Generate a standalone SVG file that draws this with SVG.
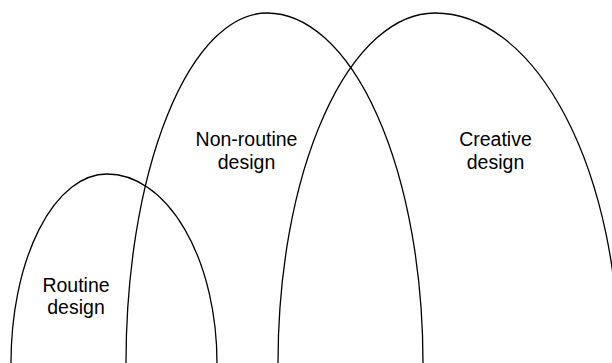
<svg xmlns="http://www.w3.org/2000/svg" width="612" height="363" viewBox="0 0 612 363">
<style>
.arch{fill:none;stroke:#000;stroke-width:1.3}
.lbl{font-family:"Liberation Sans",Arial,sans-serif;font-size:19.5px;fill:#000;text-anchor:middle}
</style>
<rect width="612" height="363" fill="#fff"/>
<g id="routine">
<path class="arch" d="M11,363 A96,189 0 0 1 107,174 A110,189 0 0 1 217,363"/>
<text class="lbl" x="76" y="291.5">Routine</text>
<text class="lbl" x="76" y="314">design</text>
</g>
<g id="nonroutine">
<path class="arch" d="M126,363 A141,350 0 0 1 267,13 A156,350 0 0 1 423,363"/>
<text class="lbl" x="246.5" y="146">Non-routine</text>
<text class="lbl" x="246.5" y="168.5">design</text>
</g>
<g id="creative">
<path class="arch" d="M278,363 A157,350 0 0 1 435,13 A184,350 0 0 1 619,363"/>
<text class="lbl" x="495.5" y="146">Creative</text>
<text class="lbl" x="495.5" y="168.5">design</text>
</g>
<g id="connectors"/>
</svg>
